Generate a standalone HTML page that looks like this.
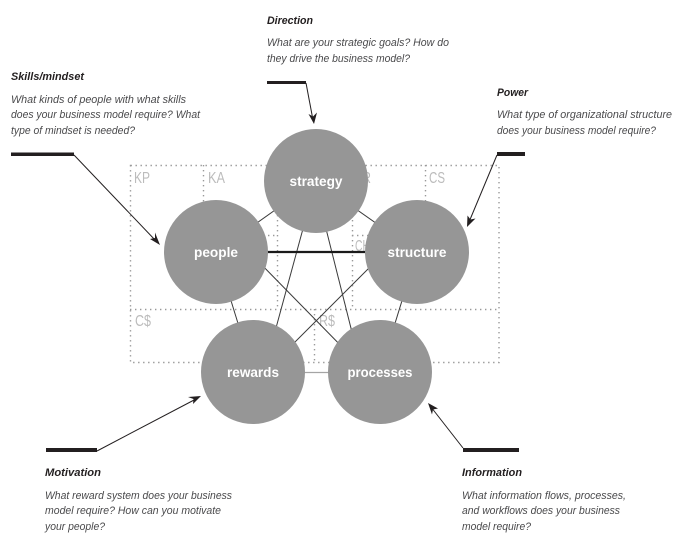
<!DOCTYPE html>
<html><head><meta charset="utf-8">
<style>
html,body{margin:0;padding:0;background:#fff;width:676px;height:548px;overflow:hidden}
svg{display:block}
text{font-family:"Liberation Sans",sans-serif}
.h{font-size:11px;font-weight:bold;font-style:italic;fill:#231f20}
.b{font-size:11px;font-style:italic;fill:#4a4a4c}
.g{font-size:16px;fill:#bcbcbc}
.c{font-size:14px;font-weight:bold;fill:#fff;text-anchor:middle}
.d{stroke:#999;stroke-width:1.4;stroke-dasharray:1.4 3.6;fill:none}
.l{stroke:#3a3a3a;stroke-width:1;fill:none}
.a{stroke:#231f20;stroke-width:1;fill:none}
.p{fill:#231f20}
</style></head>
<body>
<svg width="676" height="548" viewBox="0 0 676 548" xmlns="http://www.w3.org/2000/svg">
<g class="d">
<rect x="130.500" y="165.500" width="368.500" height="197"/>
<path d="M130 309.500H499"/>
<path d="M203.500 165V298"/>
<path d="M277.500 165V309"/>
<path d="M352.500 165V309"/>
<path d="M425.500 165V298"/>
<path d="M203 235.500H277"/>
<path d="M352 235.500H425"/>
<path d="M314.500 309V362"/>
</g>
<text class="g" x="134" y="183" textLength="16" lengthAdjust="spacingAndGlyphs">KP</text>
<text class="g" x="208" y="183" textLength="17" lengthAdjust="spacingAndGlyphs">KA</text>
<text class="g" x="362" y="183" textLength="9" lengthAdjust="spacingAndGlyphs">R</text>
<text class="g" x="429" y="183" textLength="16" lengthAdjust="spacingAndGlyphs">CS</text>
<text class="g" x="355" y="251" textLength="15" lengthAdjust="spacingAndGlyphs">CH</text>
<text class="g" x="135" y="326" textLength="16" lengthAdjust="spacingAndGlyphs">C$</text>
<text class="g" x="319" y="326" textLength="16" lengthAdjust="spacingAndGlyphs">R$</text>

<g class="l">
<line x1="316" y1="181" x2="216" y2="252"/>
<line x1="316" y1="181" x2="417" y2="252"/>
<line x1="316" y1="181" x2="264" y2="372"/>
<line x1="314" y1="181" x2="362" y2="372"/>
<line x1="216" y1="252" x2="253" y2="372"/>
<line x1="417" y1="252" x2="380" y2="372"/>
<line x1="255" y1="258" x2="350" y2="355"/>
<line x1="375" y1="262" x2="285" y2="352"/>
</g>
<line x1="216" y1="252" x2="417" y2="252" stroke="#1a1a1a" stroke-width="2.2"/>
<line x1="253" y1="372.500" x2="380" y2="372.500" stroke="#a5a5a5" stroke-width="1.2"/>

<g fill="#969696">
<circle cx="316" cy="181" r="52"/>
<circle cx="216" cy="252" r="52"/>
<circle cx="417" cy="252" r="52"/>
<circle cx="253" cy="372" r="52"/>
<circle cx="380" cy="372" r="52"/>
</g>
<text class="c" x="316" y="186" textLength="53" lengthAdjust="spacingAndGlyphs">strategy</text>
<text class="c" x="216" y="257" textLength="44" lengthAdjust="spacingAndGlyphs">people</text>
<text class="c" x="417" y="257" textLength="59" lengthAdjust="spacingAndGlyphs">structure</text>
<text class="c" x="253" y="377" textLength="52" lengthAdjust="spacingAndGlyphs">rewards</text>
<text class="c" x="380" y="377" textLength="65" lengthAdjust="spacingAndGlyphs">processes</text>

<g fill="#231f20">
<rect x="267" y="81" width="39" height="3"/>
<rect x="11" y="152.500" width="63" height="3.500"/>
<rect x="497" y="152" width="28" height="4"/>
<rect x="46" y="448" width="51" height="4"/>
<rect x="463" y="448" width="56" height="4"/>
</g>
<g class="a">
<line x1="306" y1="83" x2="313" y2="120"/>
<line x1="74" y1="155" x2="156" y2="241"/>
<line x1="497" y1="155" x2="469" y2="222"/>
<line x1="97" y1="451" x2="196" y2="399"/>
<line x1="463" y1="448" x2="431" y2="407"/>
</g>
<polygon class="p" points="314,124 308.500,114 313,116.500 317,112.500"/>
<polygon class="p" points="160,245 150,239 155,238 155,232.500"/>
<polygon class="p" points="467,227 467.500,215.500 470.500,219.500 475.500,218.500"/>
<polygon class="p" points="201,396 193,404 193.500,399 188,397"/>
<polygon class="p" points="428,403 438,408.500 433,409.500 432,414.500"/>

<text class="h" x="267" y="24" textLength="46" lengthAdjust="spacingAndGlyphs">Direction</text>
<text class="b" x="267" y="46" textLength="182" lengthAdjust="spacingAndGlyphs">What are your strategic goals? How do</text>
<text class="b" x="267" y="62" textLength="143" lengthAdjust="spacingAndGlyphs">they drive the business model?</text>

<text class="h" x="11" y="80" textLength="73" lengthAdjust="spacingAndGlyphs">Skills/mindset</text>
<text class="b" x="11" y="103" textLength="175" lengthAdjust="spacingAndGlyphs">What kinds of people with what skills</text>
<text class="b" x="11" y="118" textLength="189" lengthAdjust="spacingAndGlyphs">does your business model require? What</text>
<text class="b" x="11" y="134" textLength="124" lengthAdjust="spacingAndGlyphs">type of mindset is needed?</text>

<text class="h" x="497" y="96" textLength="31" lengthAdjust="spacingAndGlyphs">Power</text>
<text class="b" x="497" y="118" textLength="175" lengthAdjust="spacingAndGlyphs">What type of organizational structure</text>
<text class="b" x="497" y="134" textLength="159" lengthAdjust="spacingAndGlyphs">does your business model require?</text>

<text class="h" x="45" y="476" textLength="56" lengthAdjust="spacingAndGlyphs">Motivation</text>
<text class="b" x="45" y="499" textLength="187" lengthAdjust="spacingAndGlyphs">What reward system does your business</text>
<text class="b" x="45" y="514" textLength="176" lengthAdjust="spacingAndGlyphs">model require? How can you motivate</text>
<text class="b" x="45" y="530" textLength="60" lengthAdjust="spacingAndGlyphs">your people?</text>

<text class="h" x="462" y="476" textLength="60" lengthAdjust="spacingAndGlyphs">Information</text>
<text class="b" x="462" y="499" textLength="164" lengthAdjust="spacingAndGlyphs">What information flows, processes,</text>
<text class="b" x="462" y="514" textLength="158" lengthAdjust="spacingAndGlyphs">and workflows does your business</text>
<text class="b" x="462" y="530" textLength="69" lengthAdjust="spacingAndGlyphs">model require?</text>
</svg>
</body></html>
